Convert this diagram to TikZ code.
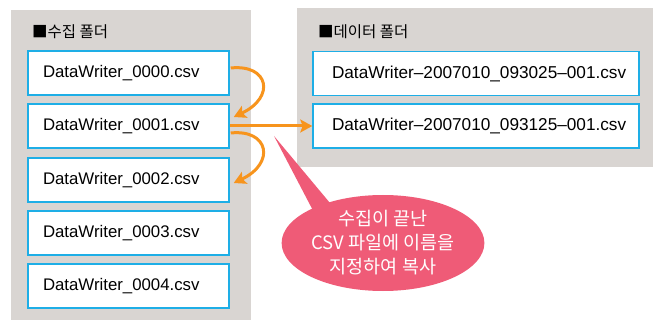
\documentclass[tikz,border=0pt]{standalone}
\usepackage{fontspec}
\setmainfont{Liberation Sans}
\newfontfamily\kr{Noto Sans CJK KR}
\usetikzlibrary{arrows.meta,calc,shapes.geometric}
\definecolor{panelgray}{HTML}{D9D5D2}
\definecolor{boxblue}{HTML}{1EAEE6}
\definecolor{arrorange}{HTML}{F7941D}
\definecolor{balloonpink}{HTML}{EF5B77}
\tikzset{
  panelbox/.style={fill=panelgray, draw=none, inner sep=0pt},
  foldertitle/.style={anchor=west, inner sep=0pt, font=\kr\fontsize{15.5}{18}\selectfont},
  lfile/.style={draw=boxblue, line width=1.5pt, fill=white, minimum width=201pt, minimum height=44pt,
    inner xsep=15pt, inner ysep=0pt, text width=171pt, align=left, font=\fontsize{16.8}{20}\selectfont},
  rfile/.style={draw=boxblue, line width=1.5pt, fill=white, minimum width=326pt, minimum height=44pt,
    inner xsep=9.5pt, inner ysep=0pt, text width=307pt, align=left, font=\fontsize{17.2}{20}\selectfont,
    execute at begin node={\hspace*{9.5pt}}},
  orarrow/.style={draw=arrorange, line width=3pt, -{Stealth[length=12pt,width=13pt,inset=2.5pt]}},
}
\begin{document}
\begin{tikzpicture}[x=1pt,y=-1pt]
\useasboundingbox (0,0) rectangle (660,320);
% panels
\node[panelbox, minimum width=240pt, minimum height=310pt] (pl) at (131,165) {};
\node[panelbox, minimum width=356pt, minimum height=159pt] (pr) at (475,87.5) {};
% titles
\node[foldertitle] (tl) at (32,31.5) {■수집 폴더};
\node[foldertitle] (tr) at (318,31.5) {■데이터 폴더};
% left files
\node[lfile] (l1) at (128.5,73) {DataWriter\_0000.csv};
\node[lfile] (l2) at (128.5,126) {DataWriter\_0001.csv};
\node[lfile] (l3) at (128.5,180) {DataWriter\_0002.csv};
\node[lfile] (l4) at (128.5,233) {DataWriter\_0003.csv};
\node[lfile] (l5) at (128.5,286) {DataWriter\_0004.csv};
% right files
\node[rfile] (r1) at (476,73.5) {DataWriter--2007010\_093025--001.csv};
\node[rfile] (r2) at (476,126) {DataWriter--2007010\_093125--001.csv};
% arrows
\draw[orarrow] ($(l1.east)+(1,-5)$) .. controls +(38,-4) and +(42,-20) .. ($(l2.east)+(4,-9)$);
\draw[orarrow] ($(l2.east)+(1,7)$) .. controls +(38,-4) and +(42,-20) .. ($(l3.east)+(4,3)$);
\draw[orarrow] (l2.east) -- (r2.west);
% balloon
\coordinate (tip) at (274,136);
\fill[balloonpink] (tip) -- (319,222) -- (340,215) -- cycle;
\node[ellipse, fill=balloonpink, minimum width=196pt, minimum height=96pt, inner sep=0pt,
  text=white, align=center, font=\kr\fontsize{18.5}{24}\selectfont] (bal) at (383,243)
  {수집이 끝난\\CSV 파일에 이름을\\지정하여 복사};
\end{tikzpicture}
\end{document}
